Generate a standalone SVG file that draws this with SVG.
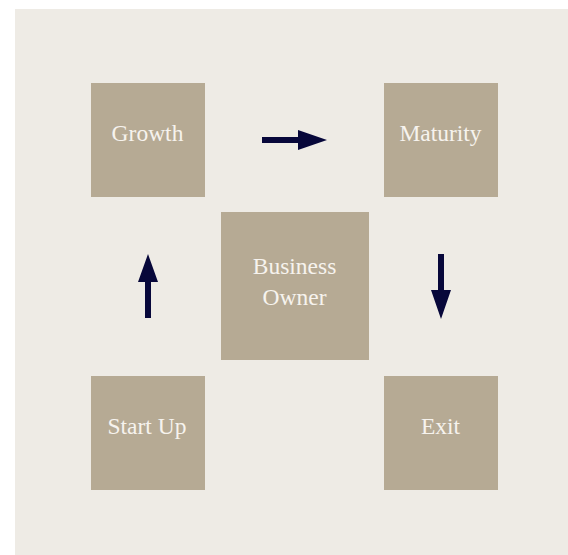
<svg xmlns="http://www.w3.org/2000/svg" width="568" height="555" viewBox="0 0 568 555">
  <style>
    .box { fill: #b6aa94; }
    .label { font-family: "Liberation Serif", "Times New Roman", serif; font-size: 23.5px; fill: #f6f3ee; text-anchor: middle; }
    .arrow { fill: #07073a; }
  </style>
  <rect x="0" y="0" width="568" height="555" fill="#ffffff"/>
  <rect x="15" y="9" width="553" height="546" fill="#eeebe5"/>

  <g id="growth">
    <rect class="box" x="91" y="83" width="114" height="114"/>
    <text class="label" x="147.5" y="141">Growth</text>
  </g>
  <g id="maturity">
    <rect class="box" x="384" y="83" width="114" height="114"/>
    <text class="label" x="440.5" y="141">Maturity</text>
  </g>
  <g id="business-owner">
    <rect class="box" x="221" y="212" width="148" height="148"/>
    <text class="label" x="294.5" y="273.5">Business</text>
    <text class="label" x="294.5" y="305">Owner</text>
  </g>
  <g id="start-up">
    <rect class="box" x="91" y="376" width="114" height="114"/>
    <text class="label" x="147" y="434">Start Up</text>
  </g>
  <g id="exit">
    <rect class="box" x="384" y="376" width="114" height="114"/>
    <text class="label" x="440.5" y="434">Exit</text>
  </g>

  <g id="connectors">
    <!-- Growth to Maturity -->
    <path class="arrow" d="M262,137 H298 V130 L327,140 L298,150 V143 H262 Z"/>
    <!-- Maturity to Exit -->
    <path class="arrow" d="M438,254 H444 V290 H451 L441,319 L431,290 H438 Z"/>
    <!-- Start Up to Growth -->
    <path class="arrow" d="M145,318 V282 H138 L148,254 L158,282 H151 V318 Z"/>
  </g>
</svg>
